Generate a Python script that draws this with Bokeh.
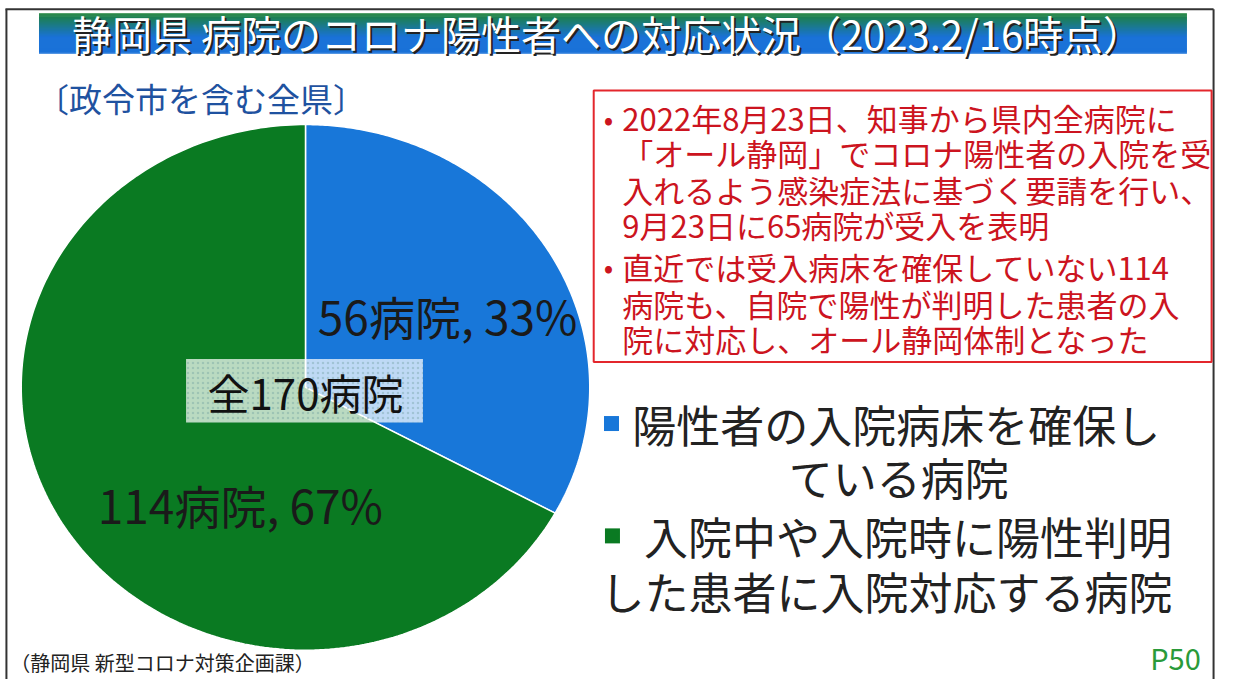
import numpy as np
from bokeh.plotting import figure
from bokeh.models import Range1d
from bokeh.core.properties import value
from bokeh.embed import file_html
from bokeh.resources import INLINE

# ---------------- data ----------------
title_text = "静岡県 病院のコロナ陽性者への対応状況（2023.2/16時点）"
subtitle_text = "〔政令市を含む全県〕"
categories = ["陽性者の入院病床を確保している病院",
              "入院中や入院時に陽性判明した患者に入院対応する病院"]
hospitals = [56, 114]
slice_colors = ["#1877D9", "#0A7A22"]
legend_lines = [["陽性者の入院病床を確保し", "ている病院"],
                ["入院中や入院時に陽性判明", "した患者に入院対応する病院"]]
note_lines = [
    "2022年8月23日、知事から県内全病院に",
    "「オール静岡」でコロナ陽性者の入院を受",
    "入れるよう感染症法に基づく要請を行い、",
    "9月23日に65病院が受入を表明",
    "直近では受入病床を確保していない114",
    "病院も、自院で陽性が判明した患者の入",
    "院に対応し、オール静岡体制となった",
]
note_bullet_rows = [0, 4]
source_text = "（静岡県 新型コロナ対策企画課）"
page_text = "P50"

FONT = "Noto Sans CJK JP"
W, H = 1218, 679
RW, RH = 1234, 695   # reference picture coordinates

p = figure(width=W, height=H, x_range=Range1d(0, RW), y_range=Range1d(RH, 0),
           output_backend="svg", toolbar_location=None, min_border=0,
           x_axis_location=None, y_axis_location=None)
p.grid.visible = False
p.outline_line_color = None
p.background_fill_color = "white"
p.border_fill_color = "white"


def txt(xs, ys, texts, size, color, align="left", baseline="middle"):
    p.text(x=xs, y=ys, text=texts, text_font=value(FONT),
           text_font_size=f"{size}px", text_color=color,
           text_align=align, text_baseline=baseline)


# slide border
p.segment(x0=[6, 5, 1229], y0=[9, 9, 9], x1=[6, 1229, 1229], y1=[695, 9, 695],
          line_color="#333333", line_width=2)

# title bar with vertical gradient
N = 41
y_edges = np.linspace(13, 54, N + 1)
c_top = np.array([0x1d, 0x82, 0x3a])
c_bot = np.array([0x1a, 0x72, 0xd8])
cols = []
for i in range(N):
    f = min((i / (N - 1)) / 0.6, 1.0)
    c = (c_top * (1 - f) + c_bot * f).astype(int)
    cols.append("#%02x%02x%02x" % tuple(c))
p.quad(left=39, right=1202, top=y_edges[:-1], bottom=y_edges[1:] + 0.6,
       fill_color=cols, line_color=None)
txt([617], [35], [title_text], 40, "#222222", align="center")
txt([615], [33], [title_text], 40, "white", align="center")

# subtitle
txt([36], [100], [subtitle_text], 33, "#1F52A0")

# pie (ellipse, as in the scanned slide)
cx, cy, rx, ry = 309, 396, 288, 269
total = sum(hospitals)
start = 90.0
xs_list, ys_list = [], []
for v in hospitals:
    sweep = 360.0 * v / total
    th = np.radians(np.linspace(start, start - sweep, 240))
    xs_list.append([cx] + list(cx + rx * np.cos(th)) + [cx])
    ys_list.append([cy] + list(cy - ry * np.sin(th)) + [cy])
    start -= sweep
p.patches(xs_list, ys_list, fill_color=slice_colors, line_color="white", line_width=1.5)

slice_labels = [f"{v}病院, {round(100 * v / total)}%" for v in hospitals]
txt([453, 243], [322, 515], slice_labels, 46, "#1a1a1a", align="center")

# centre total box
p.quad(left=188, right=428, top=367, bottom=432, fill_color="white", fill_alpha=0.72,
       hatch_pattern="dot", hatch_color="#6a9a9a", hatch_alpha=0.35, hatch_scale=5,
       line_color=None)
txt([309], [400], [f"全{total}病院"], 42, "#111111", align="center")

# red note box
p.quad(left=601, right=1227, top=92, bottom=370, fill_color="white",
       line_color="#E3262C", line_width=2)
note_y = [120, 156, 193, 229, 272, 310, 346]
txt([630] * len(note_lines), note_y, note_lines, 31, "#CC1420")
txt([616] * len(note_bullet_rows), [note_y[r] for r in note_bullet_rows],
    ["•"] * len(note_bullet_rows), 28, "#CC1420", align="center")

# legend
p.scatter(x=[619, 620], y=[433, 548], marker="square", size=15,
          fill_color=slice_colors, line_color=None)
txt([640], [433], [legend_lines[0][0]], 44, "#222222")
txt([910], [488], [legend_lines[0][1]], 44, "#222222", align="center")
txt([652], [548], [legend_lines[1][0]], 44, "#222222")
txt([608], [604], [legend_lines[1][1]], 44, "#222222")

# footer
txt([10], [678], [source_text], 20, "#222222")
txt([1216], [672], [page_text], 29, "#2A9A3A", align="right")

open("out.html", "w").write(file_html(p, INLINE))
